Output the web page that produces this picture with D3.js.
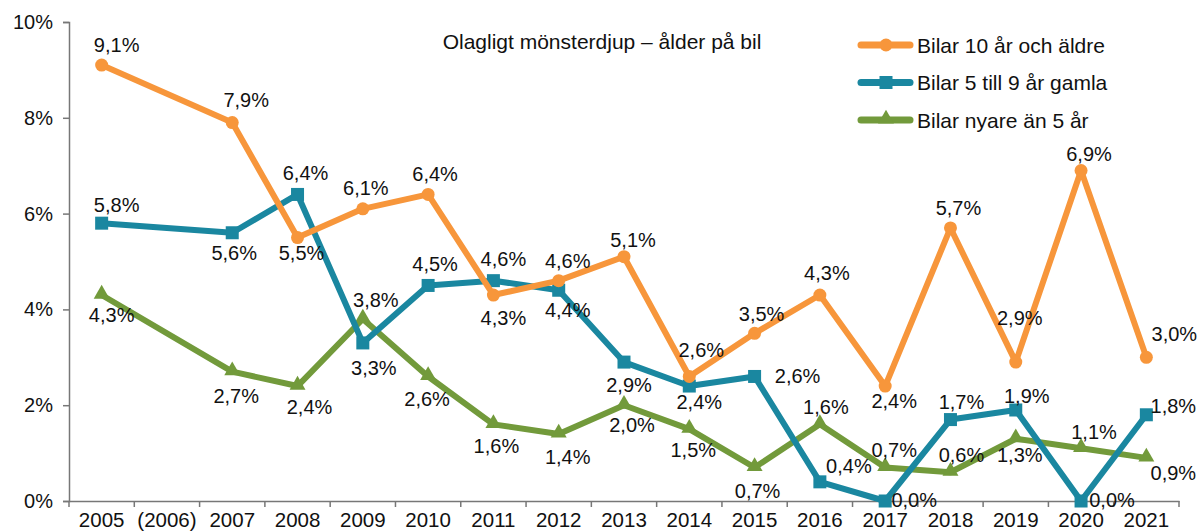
<!DOCTYPE html>
<html>
<head>
<meta charset="utf-8">
<script src="https://cdn.jsdelivr.net/npm/d3@7"></script>
<style>
  body { margin: 0; background: #fff; }
  text { font-family: "Liberation Sans", Arial, Helvetica, sans-serif; fill: #111; }
</style>
</head>
<body>
<div id="chart"></div>
<script>
var years = ["2005", "(2006)", "2007", "2008", "2009", "2010", "2011", "2012", "2013",
             "2014", "2015", "2016", "2017", "2018", "2019", "2020", "2021"];

// andel bilar med olagligt mönsterdjup, null = ingen mätning
var aldre = [9.1, null, 7.9, 5.5, 6.1, 6.4, 4.3, 4.6, 5.1, 2.6, 3.5, 4.3, 2.4, 5.7, 2.9, 6.9, 3.0];
var mellan = [5.8, null, 5.6, 6.4, 3.3, 4.5, 4.6, 4.4, 2.9, 2.4, 2.6, 0.4, 0.0, 1.7, 1.9, 0.0, 1.8];
var nyare = [4.3, null, 2.7, 2.4, 3.8, 2.6, 1.6, 1.4, 2.0, 1.5, 0.7, 1.6, 0.7, 0.6, 1.3, 1.1, 0.9];

var seriesNames = ["Bilar 10 år och äldre", "Bilar 5 till 9 år gamla", "Bilar nyare än 5 år"];
var yTicks = [0, 2, 4, 6, 8, 10];

// placering av etiketter (dx, dy) i förhållande till punkten
var nudgeAldre = [[15,-20],null,[14,-23],[4,15],[3,-21],[7,-20],[10,23],[9,-20],[9,-17],[12,-26],[7,-19],[7,-22],[9,15],[8,-20],[4,-44],[8,-16],[28,-23]];
var nudgeMellan = [[15,-18],null,[2,20],[8,-21],[11,25],[7,-21],[10,-22],[9,20],[5,23],[10,16],[43,0],[29,-16],[29,-1],[11,-18],[11,-14],[31,-1],[27,-9]];
var nudgeNyare = [[10,20],null,[4,24],[12,21],[13,-19],[-1,23],[3,22],[9,23],[8,20],[4,21],[3,24],[6,-17],[9,-17],[11,-17],[4,16],[13,-16],[27,15]];

var colors = ["#f7963b", "#1a87a0", "#729a3b"];
var markers = ["circle", "square", "triangle"];

var fullwidth = 1202, fullheight = 532;
var plot = {left: 69, right: 1179, top: 22, bottom: 501};

var svg = d3.select("#chart").append("svg")
    .attr("width", fullwidth)
    .attr("height", fullheight);

var x = d3.scaleBand()
    .domain(years)
    .range([plot.left, plot.right]);

var y = d3.scaleLinear()
    .domain([0, 10])
    .range([plot.bottom, plot.top]);

// y-axel
var yAxis = svg.append("g")
    .attr("transform", "translate(" + plot.left + ",0)")
    .call(d3.axisLeft(y).tickValues(yTicks).tickSize(6).tickPadding(10)
        .tickFormat(function(d) { return d + "%"; }));
yAxis.select(".domain").attr("stroke", "#777").attr("stroke-width", 1.5);
yAxis.selectAll(".tick line").attr("stroke", "#777").attr("stroke-width", 1.5);
yAxis.selectAll("text").style("font-size", "20px").attr("fill", "#111");

// x-axel
var xAxis = svg.append("g")
    .attr("transform", "translate(0," + plot.bottom + ")")
    .call(d3.axisBottom(x).tickSize(0).tickPadding(11));
xAxis.select(".domain").attr("stroke", "#777").attr("stroke-width", 1.5);
xAxis.selectAll("text").style("font-size", "20.5px").attr("fill", "#111");

xAxis.selectAll("line.bound")
    .data(years.concat(["end"]))
    .enter().append("line")
    .attr("class", "bound")
    .attr("x1", function(d, i) { return plot.left + i * x.step(); })
    .attr("x2", function(d, i) { return plot.left + i * x.step(); })
    .attr("y1", 0).attr("y2", 6)
    .attr("stroke", "#777").attr("stroke-width", 1.5);

var line = d3.line()
    .x(function(d) { return x(d.year) + x.bandwidth() / 2; })
    .y(function(d) { return y(d.value); });

function toPoints(values, nudge) {
    var pts = [];
    values.forEach(function(v, i) {
        if (v !== null) pts.push({year: years[i], value: v, nudge: nudge[i]});
    });
    return pts;
}

function drawMarker(g, type, color, cx, cy) {
    if (type === "circle") {
        g.append("circle").attr("cx", cx).attr("cy", cy).attr("r", 6.5).attr("fill", color);
    } else if (type === "square") {
        g.append("rect").attr("x", cx - 6.5).attr("y", cy - 6.5)
            .attr("width", 13).attr("height", 13).attr("fill", color);
    } else {
        g.append("path")
            .attr("d", d3.symbol().type(d3.symbolTriangle).size(110)())
            .attr("transform", "translate(" + cx + "," + (cy - 1) + ")")
            .attr("fill", color);
    }
}

var allSeries = [
    toPoints(aldre, nudgeAldre),
    toPoints(mellan, nudgeMellan),
    toPoints(nyare, nudgeNyare)
];

// ritordning: grön underst, sedan blå, sedan orange
[2, 1, 0].forEach(function(s) {
    var data = allSeries[s];
    var g = svg.append("g").attr("class", "series" + s);

    g.append("path")
        .datum(data)
        .attr("fill", "none")
        .attr("stroke", colors[s])
        .attr("stroke-width", 6)
        .attr("stroke-linejoin", "round")
        .attr("d", line);

    data.forEach(function(d) {
        drawMarker(g, markers[s], colors[s], x(d.year) + x.bandwidth() / 2, y(d.value));
    });
});

// etiketter överst
[2, 1, 0].forEach(function(s) {
    svg.append("g").selectAll("text")
        .data(allSeries[s])
        .enter().append("text")
        .attr("x", function(d) { return x(d.year) + x.bandwidth() / 2 + d.nudge[0]; })
        .attr("y", function(d) { return y(d.value) + d.nudge[1]; })
        .attr("text-anchor", "middle")
        .attr("dominant-baseline", "central")
        .style("font-size", "20px")
        .text(function(d) { return d.value.toFixed(1).replace(".", ",") + "%"; });
});

// titel
svg.append("text")
    .attr("x", 602)
    .attr("y", 41)
    .attr("text-anchor", "middle")
    .attr("dominant-baseline", "central")
    .style("font-size", "21px")
    .text("Olagligt mönsterdjup – ålder på bil");

// förklaring
var legend = svg.append("g");
seriesNames.forEach(function(name, i) {
    var ly = 45 + i * 37.5;
    legend.append("line")
        .attr("x1", 861).attr("x2", 910)
        .attr("y1", ly).attr("y2", ly)
        .attr("stroke", colors[i])
        .attr("stroke-width", 7)
        .attr("stroke-linecap", "round");
    drawMarker(legend, markers[i], colors[i], 886, ly);
    legend.append("text")
        .attr("x", 917)
        .attr("y", ly)
        .attr("dominant-baseline", "central")
        .style("font-size", "21px")
        .text(name);
});
</script>
</body>
</html>
